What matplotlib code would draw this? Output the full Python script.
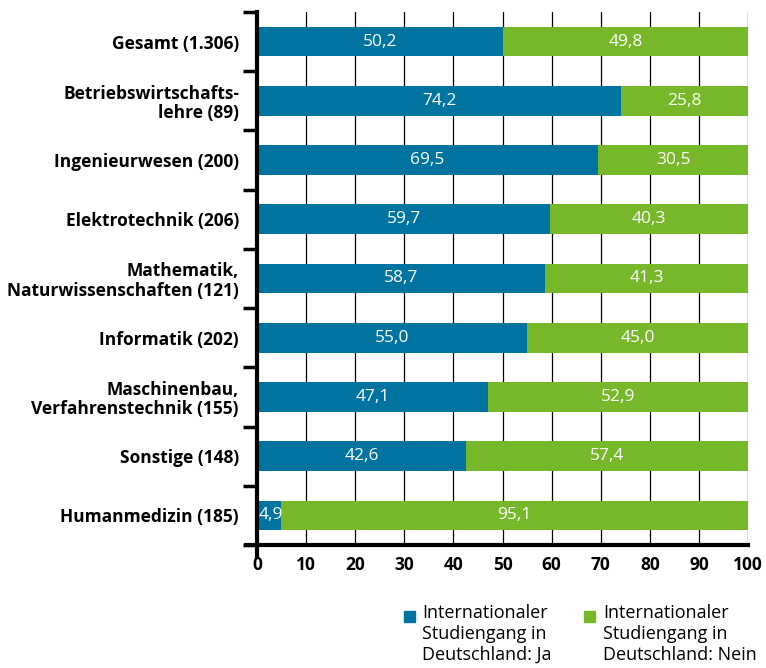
import matplotlib.pyplot as plt
from matplotlib.patches import Rectangle

plt.rcParams['font.family'] = ['Open Sans', 'DejaVu Sans']

# Data
categories = [
    "Gesamt (1.306)",
    "Betriebswirtschafts-\nlehre (89)",
    "Ingenieurwesen (200)",
    "Elektrotechnik (206)",
    "Mathematik,\nNaturwissenschaften (121)",
    "Informatik (202)",
    "Maschinenbau,\nVerfahrenstechnik (155)",
    "Sonstige (148)",
    "Humanmedizin (185)",
]
ja_values = [50.2, 74.2, 69.5, 59.7, 58.7, 55.0, 47.1, 42.6, 4.9]
nein_values = [49.8, 25.8, 30.5, 40.3, 41.3, 45.0, 52.9, 57.4, 95.1]
series_labels = ["Internationaler\nStudiengang in\nDeutschland: Ja",
                 "Internationaler\nStudiengang in\nDeutschland: Nein"]
x_ticks = [0, 10, 20, 30, 40, 50, 60, 70, 80, 90, 100]

blue = "#0074a0"
green = "#77b82a"


def fmt(v):
    return f"{v:.1f}".replace(".", ",")


fig = plt.figure(figsize=(7.66, 6.68), dpi=100)
ax = fig.add_axes([257 / 766, 123 / 668, 491 / 766, 533 / 668])

y = list(range(len(categories)))
bars_ja = ax.barh(y, ja_values, height=0.5, color=blue, zorder=3)
bars_nein = ax.barh(y, nein_values, left=ja_values, height=0.5, color=green, zorder=3)

# value labels
for i, (a, b) in enumerate(zip(ja_values, nein_values)):
    if a < 10:
        ax.text(0.3, i, fmt(a), color="white", ha="left", va="center",
                fontsize=12.5, zorder=4)
    else:
        ax.text(a / 2, i, fmt(a), color="white", ha="center", va="center",
                fontsize=12.5, zorder=4)
    ax.text(a + b / 2, i, fmt(b), color="white", ha="center", va="center",
            fontsize=12.5, zorder=4)

ax.set_xlim(0, 100)
ax.set_ylim(len(categories) - 0.5, -0.5)

# grid lines
for xv in x_ticks[1:]:
    ax.axvline(xv, color="black", lw=0.9, zorder=1)

ax.set_yticks(y)
ax.set_yticklabels(categories, fontsize=12.5, fontweight="bold", linespacing=1.1)
ax.set_yticks([v - 0.5 for v in range(len(categories) + 1)], minor=True)
ax.tick_params(axis="y", which="major", length=0, pad=13)
ax.tick_params(axis="y", which="minor", length=10, width=2.5, direction="out")

ax.set_xticks(x_ticks)
ax.set_xticklabels([str(v) for v in x_ticks], fontsize=12.5, fontweight="bold")
ax.tick_params(axis="x", length=0, pad=8)

for s in ["top", "right"]:
    ax.spines[s].set_visible(False)
ax.spines["left"].set_linewidth(3)
ax.spines["bottom"].set_linewidth(3)
ax.spines["left"].set_bounds(len(categories) - 0.5 + 0.2, -0.5)
ax.spines["bottom"].set_bounds(-2.2, 100)
ax.spines["left"].set_zorder(5)
ax.spines["bottom"].set_zorder(5)

# legend drawn manually
legend_pos = [(404, 422), (584, 603)]
for (sx, tx), label, col in zip(legend_pos, series_labels, [blue, green]):
    fig.patches.append(Rectangle((sx / 766, 1 - 622 / 668), 11 / 766, 11 / 668,
                                 transform=fig.transFigure, color=col))
    fig.text(tx / 766, 1 - 604 / 668, label, fontsize=13, va="top", ha="left",
             linespacing=1.2)

fig.savefig("out.png", dpi=100)
